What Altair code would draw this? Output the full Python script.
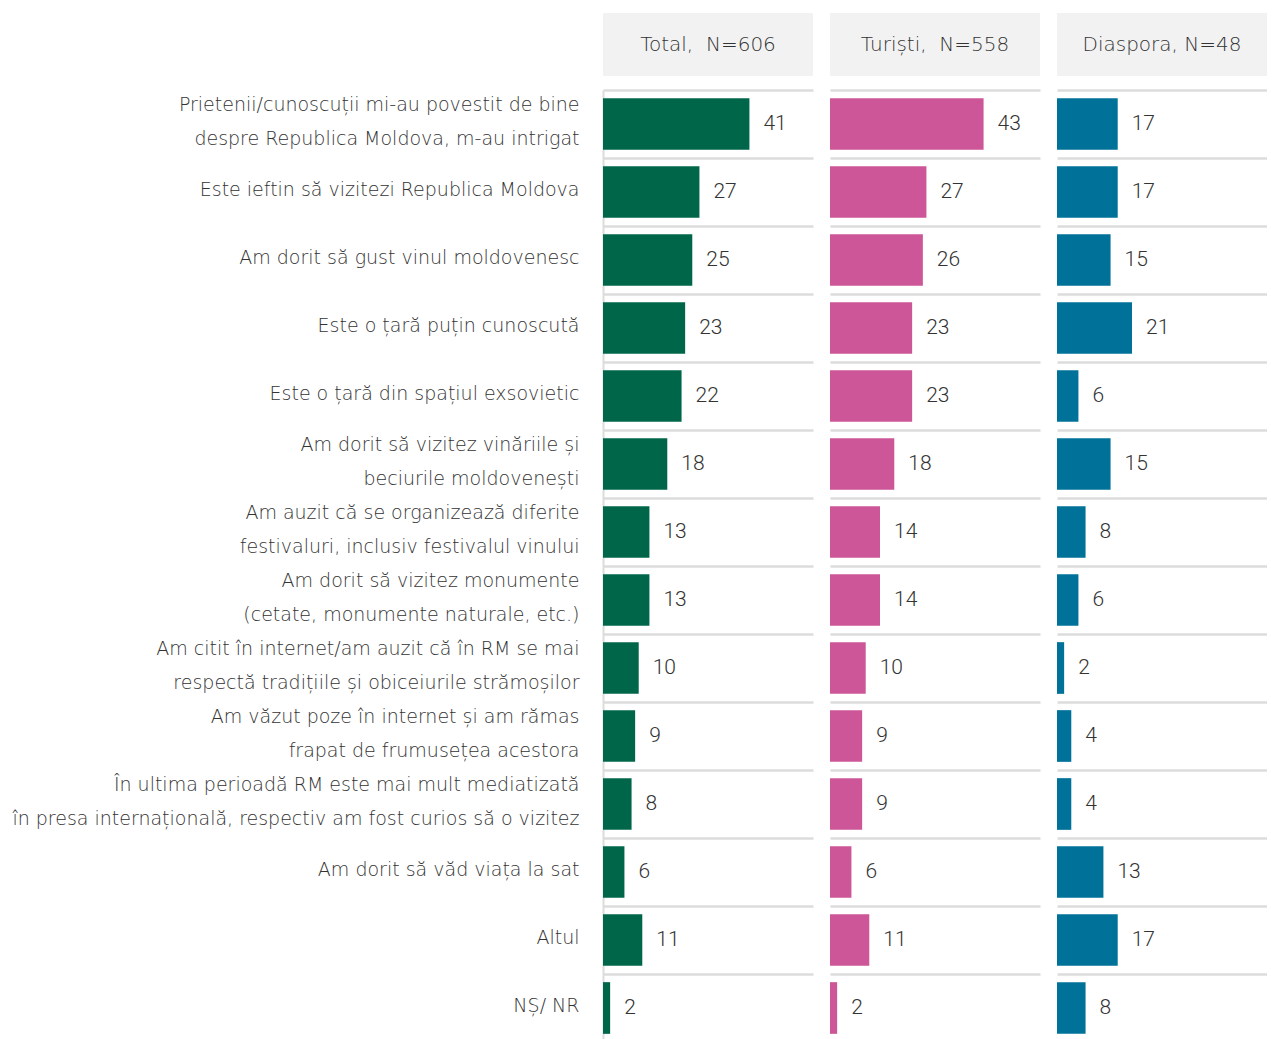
import altair as alt
import pandas as pd

categories = [
    "Prietenii/cunoscuții  mi-au povestit de bine\ndespre Republica Moldova, m-au intrigat",
    "Este ieftin să vizitezi Republica Moldova",
    "Am dorit să gust vinul moldovenesc",
    "Este o țară puțin cunoscută",
    "Este o țară din spațiul exsovietic",
    "Am dorit să vizitez vinăriile și\nbeciurile moldovenești",
    "Am auzit că se organizează diferite\nfestivaluri, inclusiv festivalul vinului",
    "Am dorit să vizitez monumente\n(cetate, monumente naturale, etc.)",
    "Am citit  în internet/am auzit că în RM se mai\nrespectă tradițiile și obiceiurile strămoșilor",
    "Am văzut poze în internet și am rămas\nfrapat de frumusețea acestora",
    "În ultima perioadă RM este mai mult mediatizată\nîn presa internațională, respectiv am fost curios să o vizitez",
    "Am dorit să văd viața la sat",
    "Altul",
    "NȘ/ NR",
]
total = [41, 27, 25, 23, 22, 18, 13, 13, 10, 9, 8, 6, 11, 2]
turisti = [43, 27, 26, 23, 23, 18, 14, 14, 10, 9, 9, 6, 11, 2]
diaspora = [17, 17, 15, 21, 6, 15, 8, 6, 2, 4, 4, 13, 17, 8]
headers = ["Total,\u00a0 N=606", "Turiști,\u00a0 N=558", "Diaspora, N=48"]
colors = ["#00664a", "#cd5699", "#00729a"]

FONT = "DejaVu Sans"
NUMFONT = "Roboto"
PW = 210     # panel width
PH = 952     # body height (14 rows x 68)
HH = 63      # header height
AXW = 595    # label column width
SP = 17
GRID = "#dcdcdc"
XMAX = 58.8
BL = "\u2800"   # blank glyph used as a spacer line

# two-line labels -> [line1, blank, line2]; one-line -> [blank, line], half line height
LABEL_EXPR = (
    "length(split(datum.label, '\\n')) > 1 ? "
    f"[split(datum.label, '\\n')[0], '{BL}', split(datum.label, '\\n')[1]] : "
    f"['{BL}', datum.label]"
)

NOVIEW = alt.ViewBackground(stroke="transparent", strokeWidth=0)


def header(txt, first):
    df = pd.DataFrame({"t": [txt], "k": ["h"]})
    if first:
        yax = alt.Axis(labels=False, ticks=False, domain=False, grid=False,
                       title=None, minExtent=AXW, maxExtent=AXW)
    else:
        yax = None
    return alt.Chart(df).mark_text(
        fontSize=20, font=FONT, fontWeight=200, color="#333333", baseline="middle"
    ).encode(
        text="t:N",
        x=alt.value(PW / 2),
        y=alt.Y("k:N", axis=yax, title=None),
    ).properties(width=PW, height=HH,
                 view=alt.ViewBackground(fill="#f2f2f2", stroke="transparent",
                                         strokeWidth=0))


def body(values, color, first):
    df = pd.DataFrame({"cat": categories, "val": values})
    if first:
        yax = alt.Axis(
            title=None, ticks=False, tickSize=0, domain=True, domainColor=GRID,
            domainWidth=2, grid=True, gridColor=GRID, gridWidth=2.3,
            tickBand="extent", labelPadding=24, labelLimit=700,
            labelExpr=LABEL_EXPR, labelLineHeight=17, labelOffset=-20,
            labelFont=FONT, labelFontWeight=200, labelFontSize=19,
            labelColor="#333333", labelAlign="right", labelBaseline="middle",
            minExtent=AXW, maxExtent=AXW,
        )
    else:
        yax = alt.Axis(title=None, ticks=False, tickSize=0, domain=False,
                       labels=False, grid=True, gridColor=GRID, gridWidth=2.3,
                       tickBand="extent")
    base = alt.Chart(df).encode(
        y=alt.Y("cat:N", sort=categories,
                scale=alt.Scale(paddingInner=0, paddingOuter=0), axis=yax),
        x=alt.X("val:Q", scale=alt.Scale(domain=[0, XMAX]), axis=None),
    )
    bars = base.mark_bar(color=color, height={"band": 0.76})
    text = base.mark_text(align="left", dx=14, fontSize=21, font=NUMFONT,
                          fontWeight=300, color="#333333").encode(text="val:Q")
    return alt.layer(bars, text).properties(width=PW, height=PH, view=NOVIEW)


series = [total, turisti, diaspora]
head_row = alt.hconcat(*[header(headers[i], i == 0) for i in range(3)], spacing=SP)
body_row = alt.hconcat(*[body(series[i], colors[i], i == 0) for i in range(3)], spacing=SP)

chart = alt.vconcat(head_row, body_row, spacing=5).properties(
    padding={"left": 0, "top": 5, "right": 0, "bottom": 0}
).configure_view(stroke="transparent", strokeWidth=0).configure(background="white")

chart.save("out.html", embed_options={"renderer": "svg", "actions": False})
